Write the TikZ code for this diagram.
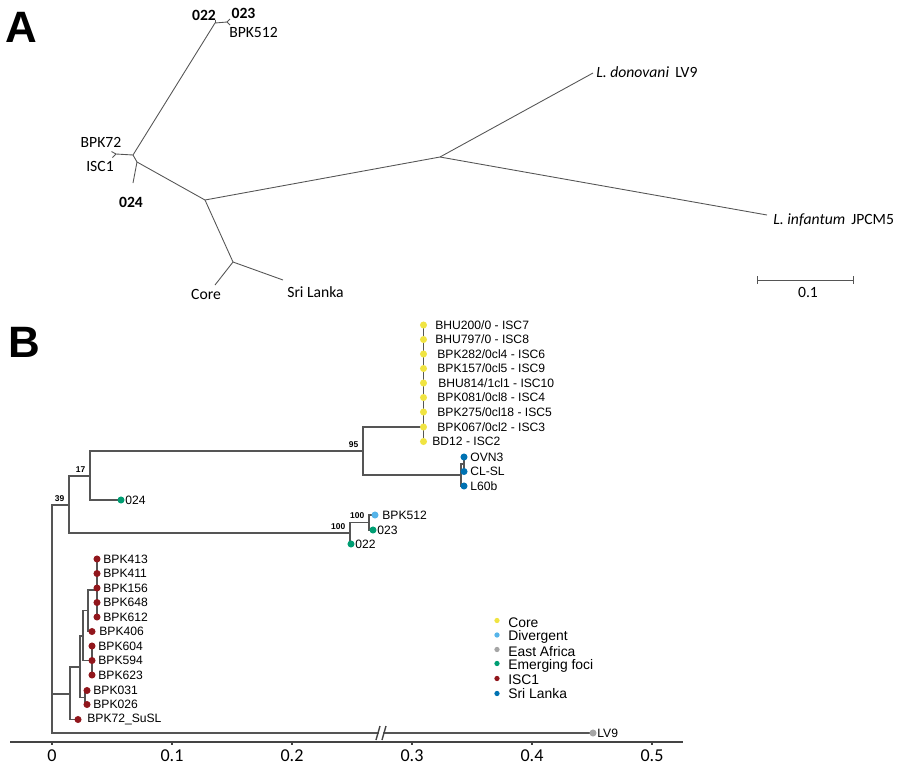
\documentclass[tikz,border=0pt]{standalone}
\usepackage{fontspec}
\setmainfont{Liberation Sans}
\newfontfamily\calib{Carlito}
\usetikzlibrary{positioning,calc}
\pgfdeclarelayer{back}
\pgfsetlayers{back,main}
\definecolor{corey}{RGB}{240,228,66}
\definecolor{divblue}{RGB}{86,180,233}
\definecolor{eagray}{RGB}{165,165,165}
\definecolor{emgreen}{RGB}{0,158,115}
\definecolor{iscred}{RGB}{145,22,28}
\definecolor{slblue}{RGB}{0,114,178}
\definecolor{linegray}{RGB}{85,85,85}
\tikzstyle{panel}=[font=\fontsize{25}{25}\selectfont\bfseries, inner sep=0pt]
\tikzstyle{unrooted}=[draw=linegray, line width=.5pt]
\tikzstyle{alab}=[font=\calib\fontsize{8.9}{10}\selectfont, inner sep=0pt]
\tikzstyle{alabb}=[alab, font=\calib\bfseries\fontsize{8.9}{10}\selectfont]
\tikzstyle{branch}=[draw=linegray, line width=.85pt]
\tikzstyle{axis}=[draw=linegray!80!black, line width=.8pt]
\tikzstyle{tip}=[circle, inner sep=0pt, minimum size=4pt]
\tikzstyle{core}=[tip, fill=corey]
\tikzstyle{sl}=[tip, fill=slblue]
\tikzstyle{emf}=[tip, fill=emgreen]
\tikzstyle{isc}=[tip, fill=iscred]
\tikzstyle{blab}=[font=\fontsize{6.9}{8}\selectfont, anchor=west, inner sep=0pt]
\tikzstyle{boot}=[font=\fontsize{4.8}{5}\selectfont\bfseries, anchor=south east,
  inner sep=0pt, xshift=-2.5pt, yshift=2pt]
\tikzstyle{ticklab}=[font=\calib\fontsize{10.3}{12}\selectfont, inner sep=0pt]
\tikzstyle{ldot}=[circle, inner sep=0pt, minimum size=3pt]
\tikzstyle{legtxt}=[font=\fontsize{7.9}{9}\selectfont, anchor=west, inner sep=0pt]

\begin{document}
\begin{tikzpicture}[x=0.02cm,y=-0.02cm]
    \useasboundingbox (0,0) rectangle (900,775);

    % Panel A
    \node[panel] (lA) at (21,27) {A};
    \coordinate (aj1) at (133,155);
    \coordinate (aj2) at (137,162);
    \coordinate (aj3) at (205,200);
    \coordinate (aj4) at (233,262);
    \coordinate (actr) at (440,157);
    \coordinate (af1) at (215,23);
    \coordinate (af2) at (227,22);
    \coordinate (af3) at (116,154);
    \coordinate (a022) at (215,19.5);
    \coordinate (a023) at (230,19);
    \coordinate (a512) at (230,25);
    \coordinate (a72) at (111.5,151.5);
    \coordinate (aisc) at (112.5,157.5);
    \coordinate (a024) at (133,183);
    \coordinate (acore) at (215,285);
    \coordinate (asl) at (283,280);
    \coordinate (alv9) at (593,73);
    \coordinate (ajp) at (767,215);
    \draw[unrooted] (af2) -- (af1) -- (aj1) -- (aj2) -- (aj3) -- (actr) -- (alv9);
    \draw[unrooted] (actr) -- (ajp);
    \draw[unrooted] (aj1) -- (af3) -- (a72);
    \draw[unrooted] (af3) -- (aisc);
    \draw[unrooted] (aj2) -- (a024);
    \draw[unrooted] (aj3) -- (aj4) -- (acore);
    \draw[unrooted] (aj4) -- (asl);
    \draw[unrooted] (af1) -- (a022);
    \draw[unrooted] (af2) -- (a023);
    \draw[unrooted] (af2) -- (a512);
    \node[alabb] (t022) at (204,15) {022};
    \node[alabb] (t023) at (243.5,13) {023};
    \node[alab] (t512) at (253.5,32) {BPK512};
    \node[alab] (t72) at (101,142) {BPK72};
    \node[alab] (tisc) at (100,166) {ISC1};
    \node[alabb] (t024) at (131,202) {024};
    \node[alab] (tcore) at (206,294) {Core};
    \node[alab, anchor=west] (tsl) at (287,292) {Sri Lanka};
    \node[alab, anchor=west] (tlv9) at (596,72) {\textit{L. donovani}\, LV9};
    \node[alab, anchor=west] (tjp) at (773,220) {\textit{L. infantum}\, JPCM5};

    % scale bar
    \coordinate (sb1) at (757,280);
    \coordinate (sb2) at (853,280);
    \draw[unrooted] (sb1) -- (sb2);
    \draw[unrooted] (757,276) -- (757,284) (853,276) -- (853,284);
    \node[alab] (sblab) at (808,292) {0.1};

    % Panel B
    \node[panel] (lB) at (24,342) {B};
    \coordinate (root) at (52,600);
    \coordinate (n39) at (69,505);
    \coordinate (n17) at (90,476);
    \coordinate (n95) at (363,451);
    \coordinate (ncore) at (423.5,427);
    \coordinate (nsl) at (461,475);
    \coordinate (nsl2) at (464,464);
    \coordinate (n22) at (350,533);
    \coordinate (n23) at (369,522.5);
    \coordinate (ni1) at (70,694);
    \coordinate (ni2) at (80,667);
    \coordinate (ni3) at (83,636);
    \coordinate (ni4) at (88,610.5);
    \coordinate (ni5) at (97,590);
    \coordinate (ni6) at (92,660.5);
    \coordinate (ni7) at (85,697.5);

    % Core
    \draw (423.5,325) node[core] (c1) {} (435,325) node[blab] (lc1) {BHU200/0 - ISC7};
    \draw (423.5,339.5) node[core] (c2) {} (435,339.5) node[blab] (lc2) {BHU797/0 - ISC8};
    \draw (423.5,354) node[core] (c3) {} (437,354) node[blab] (lc3) {BPK282/0cl4 - ISC6};
    \draw (423.5,368.5) node[core] (c4) {} (437,368.5) node[blab] (lc4) {BPK157/0cl5 - ISC9};
    \draw (423.5,383) node[core] (c5) {} (438,383) node[blab] (lc5) {BHU814/1cl1 - ISC10};
    \draw (423.5,397.5) node[core] (c6) {} (437,397.5) node[blab] (lc6) {BPK081/0cl8 - ISC4};
    \draw (423.5,412) node[core] (c7) {} (437,412) node[blab] (lc7) {BPK275/0cl18 - ISC5};
    \draw (423.5,427) node[core] (c8) {} (437,427) node[blab] (lc8) {BPK067/0cl2 - ISC3};
    \draw (423.5,441.5) node[core] (c9) {} (432,441.5) node[blab] (lc9) {BD12 - ISC2};

    % Sri Lanka
    \draw (464,457) node[sl] (s1) {} (470,457) node[blab] (ls1) {OVN3};
    \draw (464,471.5) node[sl] (s2) {} (470,471.5) node[blab] (ls2) {CL-SL};
    \draw (464,486) node[sl] (s3) {} (470,486) node[blab] (ls3) {L60b};

    % Emerging foci, divergent
    \draw (121,500) node[emf] (e024) {} (125,500) node[blab] (le024) {024};
    \draw (375,515) node[tip, fill=divblue] (d512) {} (382,515) node[blab] (ld512) {BPK512};
    \draw (373,530) node[emf] (e023) {} (377,530) node[blab] (le023) {023};
    \draw (351,544) node[emf] (e022) {} (355,544) node[blab] (le022) {022};

    % ISC1
    \draw (97,559) node[isc] (i1) {} (103,559) node[blab] (li1) {BPK413};
    \draw (97,573.5) node[isc] (i2) {} (103,573.5) node[blab] (li2) {BPK411};
    \draw (97,588) node[isc] (i3) {} (103,588) node[blab] (li3) {BPK156};
    \draw (97,602.5) node[isc] (i4) {} (103,602.5) node[blab] (li4) {BPK648};
    \draw (97,617) node[isc] (i5) {} (103,617) node[blab] (li5) {BPK612};
    \draw (92,631.5) node[isc] (i6) {} (99,631.5) node[blab] (li6) {BPK406};
    \draw (92,646) node[isc] (i7) {} (98,646) node[blab] (li7) {BPK604};
    \draw (92,660.5) node[isc] (i8) {} (98,660.5) node[blab] (li8) {BPK594};
    \draw (92,675) node[isc] (i9) {} (98,675) node[blab] (li9) {BPK623};
    \draw (87,690.5) node[isc] (i10) {} (93,690.5) node[blab] (li10) {BPK031};
    \draw (87,704.5) node[isc] (i11) {} (93,704.5) node[blab] (li11) {BPK026};
    \draw (78,719.5) node[isc] (i12) {} (87,719.5) node[blab] (li12) {BPK72\_SuSL};

    % East Africa
    \draw (593,733) node[tip, fill=eagray] (lv9) {} (597,733) node[blab] (llv9) {LV9};

    % Branches
    \begin{pgfonlayer}{back}
    \draw[branch] (root) |- (n39);
    \draw[branch] (root) |- (ni1);
    \draw[branch] (root) |- (lv9.center);
    \draw[branch] (n39) |- (n17);
    \draw[branch] (n39) |- (n22);
    \draw[branch] (n17) |- (n95);
    \draw[branch] (n17) |- (e024.center);
    \draw[branch] (n95) |- (ncore);
    \draw[branch] (n95) |- (nsl);
    \draw[branch] (ncore) |- (c1.center);
    \draw[branch] (ncore) |- (c9.center);
    \draw[branch] (nsl) |- (nsl2);
    \draw[branch] (nsl) |- (s3.center);
    \draw[branch] (nsl2) |- (s1.center);
    \draw[branch] (nsl2) |- (s2.center);
    \draw[branch] (n22) |- (n23);
    \draw[branch] (n22) |- (e022.center);
    \draw[branch] (n23) |- (d512.center);
    \draw[branch] (n23) |- (e023.center);
    \draw[branch] (ni1) |- (ni2);
    \draw[branch] (ni1) |- (i12.center);
    \draw[branch] (ni2) |- (ni3);
    \draw[branch] (ni2) |- (ni7);
    \draw[branch] (ni3) |- (ni4);
    \draw[branch] (ni3) |- (ni6);
    \draw[branch] (ni4) |- (ni5);
    \draw[branch] (ni4) |- (i6.center);
    \draw[branch] (ni5) |- (i1.center);
    \draw[branch] (ni5) |- (i5.center);
    \draw[branch] (ni6) |- (i7.center);
    \draw[branch] (ni6) |- (i9.center);
    \draw[branch] (ni7) |- (i10.center);
    \draw[branch] (ni7) |- (i11.center);
    \end{pgfonlayer}

    % Bootstrap values
    \node[boot] (b39) at (n39) {39};
    \node[boot] (b17) at (n17) {17};
    \node[boot] (b95) at (n95) {95};
    \node[boot] (b22) at (n22) {100};
    \node[boot] (b23) at (n23) {100};

    % axis break
    \fill[white] (377,740) -- (381,726) -- (385,726) -- (381,740) -- cycle;
    \draw[axis] (376,740) -- (380,726) (382,740) -- (386,726);

    % Axis
    \coordinate (ax0) at (10,742);
    \coordinate (ax1) at (683,742);
    \draw[axis] (ax0) -- (ax1);
    \draw[axis] (52,742) -- (52,745) (172,742) -- (172,745) (292,742) -- (292,745)
      (412,742) -- (412,745) (532,742) -- (532,745) (652,742) -- (652,745);
    \node[ticklab] (x0) at (52,756) {0};
    \node[ticklab] (x1) at (172,756) {0.1};
    \node[ticklab] (x2) at (292,756) {0.2};
    \node[ticklab] (x3) at (412,756) {0.3};
    \node[ticklab] (x4) at (532,756) {0.4};
    \node[ticklab] (x5) at (652,756) {0.5};

    % Legend
    \draw (497,620.5) node[ldot, fill=corey] (k1) {} (508,623) node[legtxt] (kt1) {Core};
    \draw (497,635) node[ldot, fill=divblue] (k2) {} (508,637.2) node[legtxt] (kt2) {Divergent};
    \draw (497,649.5) node[ldot, fill=eagray] (k3) {} (508,651.4) node[legtxt] (kt3) {East Africa};
    \draw (497,663.5) node[ldot, fill=emgreen] (k4) {} (508,665.6) node[legtxt] (kt4) {Emerging foci};
    \draw (497,678.5) node[ldot, fill=iscred] (k5) {} (508,679.8) node[legtxt] (kt5) {ISC1};
    \draw (497,693.5) node[ldot, fill=slblue] (k6) {} (508,694) node[legtxt] (kt6) {Sri Lanka};
\end{tikzpicture}
\end{document}
